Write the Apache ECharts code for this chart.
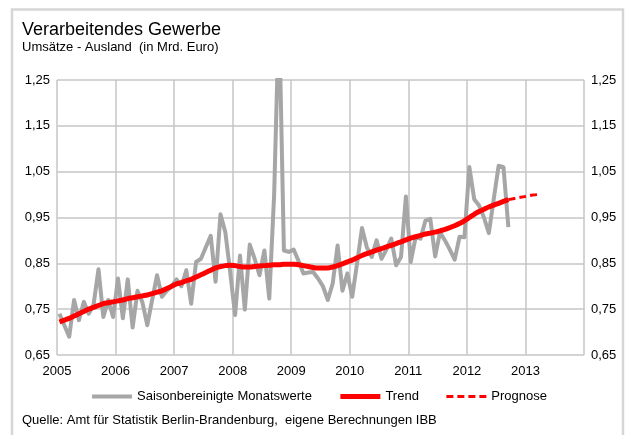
<!DOCTYPE html>
<html>
<head>
<meta charset="utf-8">
<script src="https://cdn.jsdelivr.net/npm/echarts@6/dist/echarts.min.js"></script>
<style>
  html, body { margin: 0; padding: 0; background: #fff; }
  #chart { width: 629px; height: 435px; }
</style>
</head>
<body>
<div id="chart"></div>
<script>
// Monatswerte ab Januar 2005 (saisonbereinigt, Mrd. Euro)
var startYear = 2005;
var monatswerte = [
  0.74, 0.715, 0.69, 0.77, 0.726, 0.766, 0.74, 0.76, 0.837, 0.733, 0.77, 0.733,
  0.817, 0.73, 0.815, 0.71, 0.79, 0.765, 0.715, 0.77, 0.824, 0.777, 0.79, 0.80,
  0.815, 0.80, 0.835, 0.762, 0.853, 0.86, 0.885, 0.91, 0.81, 0.957, 0.918, 0.83,
  0.737, 0.867, 0.749, 0.891, 0.86, 0.824, 0.878, 0.773, 1.0, 1.4, 0.878, 0.875,
  0.88, 0.855, 0.828, 0.83, 0.831, 0.817, 0.80, 0.77, 0.806, 0.889, 0.79, 0.828,
  0.777, 0.85, 0.927, 0.885, 0.864, 0.9, 0.86, 0.88, 0.904, 0.846, 0.864, 0.996,
  0.853, 0.907, 0.904, 0.943, 0.947, 0.865, 0.918, 0.9, 0.88, 0.858, 0.908, 0.907,
  1.06, 0.99, 0.976, 0.95, 0.916, 0.99, 1.063, 1.06, 0.929
];
var trend = [
  0.722, 0.726, 0.73, 0.735, 0.74, 0.745, 0.75, 0.754, 0.758, 0.762, 0.764, 0.766,
  0.768, 0.770, 0.773, 0.775, 0.777, 0.779, 0.781, 0.784, 0.787, 0.79, 0.795, 0.80,
  0.805, 0.808, 0.812, 0.815, 0.82, 0.825, 0.83, 0.835, 0.84, 0.843, 0.845, 0.846,
  0.845, 0.843, 0.842, 0.842, 0.843, 0.844, 0.845, 0.846, 0.847, 0.847, 0.848, 0.848,
  0.848, 0.847, 0.845, 0.843, 0.841, 0.84, 0.84, 0.84, 0.842, 0.845, 0.849, 0.853,
  0.857, 0.862, 0.867, 0.871, 0.875, 0.879, 0.882, 0.886, 0.889, 0.893, 0.897, 0.901,
  0.905, 0.908, 0.911, 0.914, 0.916, 0.918, 0.921, 0.924, 0.928, 0.932, 0.937, 0.943,
  0.95, 0.957, 0.963, 0.968, 0.973, 0.977, 0.981, 0.985, 0.989
];
// Prognose ab September 2012 (Monatsindex 92)
var prognoseStart = 92;
var prognose = [0.989, 0.991, 0.993, 0.995, 0.997, 0.999, 1.0];
var jahre = [2005, 2006, 2007, 2008, 2009, 2010, 2011, 2012, 2013];

// Monatsindex -> Position auf der Zeitachse (Monatsmitte)
function toPoints(values, offset) {
  return values.map(function (v, i) {
    return [startYear + (offset + i + 0.5) / 12, v];
  });
}

var font = 'Liberation Sans, Arial, sans-serif';
var gridColor = '#c6c6c6';

var yLabel = function (v) {
  var k = Math.round(v * 100);
  if ((k - 65) % 10 !== 0) return '';
  return (k / 100).toFixed(2).replace('.', ',');
};

var yAxisBase = {
  type: 'value',
  min: 0.65,
  max: 1.25,
  interval: 0.05,
  axisLine: { show: false },
  axisTick: { show: false },
  axisLabel: { formatter: yLabel, color: '#000', fontSize: 13, fontFamily: font, margin: 7 }
};

var chart = echarts.init(document.getElementById('chart'));

chart.setOption({
  animation: false,
  backgroundColor: '#fff',
  graphic: [
    {
      type: 'rect',
      shape: { x: 12, y: 9.5, width: 611, height: 440 },
      style: { fill: 'none', stroke: '#d6d6d6', lineWidth: 2.5 },
      silent: true
    },
    {
      type: 'text', left: 22, top: 21,
      style: { text: 'Verarbeitendes Gewerbe', fontSize: 18, fontFamily: font, fill: '#000' }
    },
    {
      type: 'text', left: 22, top: 41,
      style: { text: 'Umsätze - Ausland  (in Mrd. Euro)', fontSize: 13, fontFamily: font, fill: '#000' }
    },
    {
      type: 'text', left: 22, top: 414,
      style: { text: 'Quelle: Amt für Statistik Berlin-Brandenburg,  eigene Berechnungen IBB', fontSize: 13, fontFamily: font, fill: '#000' }
    }
  ],
  grid: { left: 57, right: 45, top: 80, bottom: 80, containLabel: false },
  legend: {
    top: 390,
    left: 90,
    padding: 0,
    itemWidth: 40,
    itemHeight: 14,
    itemGap: 26,
    textStyle: { fontSize: 13, fontFamily: font, color: '#000' },
    data: [
      { name: 'Saisonbereinigte Monatswerte', lineStyle: { width: 4, color: '#a6a6a6' }, itemStyle: { opacity: 0 } },
      { name: 'Trend', lineStyle: { width: 5, color: '#ff0000' }, itemStyle: { opacity: 0 } },
      { name: 'Prognose', lineStyle: { width: 3, color: '#ff0000', type: [7, 4] }, itemStyle: { opacity: 0 } }
    ]
  },
  xAxis: {
    type: 'value',
    min: 2005,
    max: 2014,
    interval: 1,
    axisLine: { show: false },
    axisTick: { show: false },
    axisLabel: {
      color: '#000', fontSize: 13, fontFamily: font, margin: 10,
      formatter: function (v) { return jahre.indexOf(v) >= 0 ? String(v) : ''; }
    },
    splitLine: { show: true, lineStyle: { color: gridColor, width: 1.5 } }
  },
  yAxis: [
    Object.assign({}, yAxisBase, {
      position: 'left',
      splitLine: { show: true, lineStyle: { color: [gridColor, 'rgba(0,0,0,0)'], width: 1.5 } }
    }),
    Object.assign({}, yAxisBase, {
      position: 'right',
      splitLine: { show: false }
    })
  ],
  series: [
    {
      name: 'Saisonbereinigte Monatswerte',
      type: 'line',
      symbol: 'none',
      clip: true,
      data: toPoints(monatswerte, 0),
      lineStyle: { color: '#a6a6a6', width: 4, join: 'round' },
      itemStyle: { color: '#a6a6a6' },
      z: 2
    },
    {
      name: 'Trend',
      type: 'line',
      symbol: 'none',
      smooth: true,
      data: toPoints(trend, 0),
      lineStyle: { color: '#ff0000', width: 5 },
      itemStyle: { color: '#ff0000' },
      z: 3
    },
    {
      name: 'Prognose',
      type: 'line',
      symbol: 'none',
      smooth: true,
      data: toPoints(prognose, prognoseStart),
      lineStyle: { color: '#ff0000', width: 3, type: [7, 4] },
      itemStyle: { color: '#ff0000' },
      z: 3
    }
  ]
});
</script>
</body>
</html>
